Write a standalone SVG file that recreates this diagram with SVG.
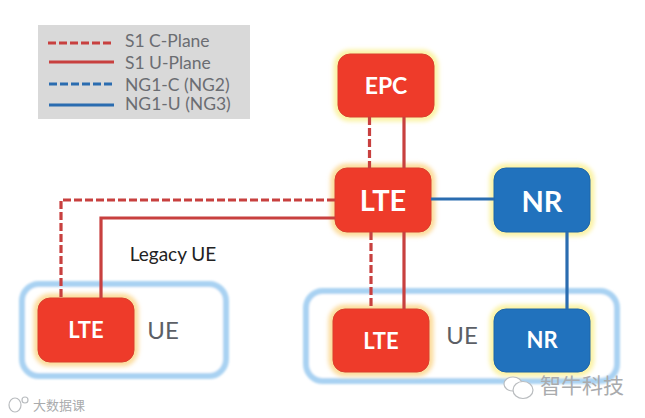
<svg xmlns="http://www.w3.org/2000/svg" width="645" height="418" viewBox="0 0 645 418">
<style>
text{font-family:Lato,"Noto Sans CJK SC",sans-serif;text-anchor:middle}
.red{fill:#ee3b2a;stroke:#d9402e;stroke-width:1}
.blue{fill:#2172bd;stroke:#1f66a8;stroke-width:1}
.glow{fill:none;stroke:#fbf3a6;stroke-width:9;filter:url(#b)}
.glow2{fill:none;stroke:#fcdc9c;stroke-width:9;filter:url(#b)}
.ue{fill:#fff;stroke:#a9d2f2;stroke-width:6;filter:url(#c)}
.lbl{fill:#fff;font-weight:700}
.uet{fill:#5c5f66;font-size:24px}
.leg{fill:#6b6d72;font-size:17.500px;text-anchor:start}
.s{fill:none;stroke:#c8403f;stroke-width:3.200}
.d{fill:none;stroke:#c8403f;stroke-width:3.200;stroke-dasharray:8 3}
.bs{fill:none;stroke:#2a6cb0;stroke-width:3.200}
.bd{fill:none;stroke:#2a6cb0;stroke-width:3.200;stroke-dasharray:8 3}
.wm{fill:#a9abad}
.ic{fill:#fff;stroke:#b9bcbf;stroke-width:1.200}
</style>
<defs><filter id="b" x="-20%" y="-20%" width="140%" height="140%"><feGaussianBlur stdDeviation="2"/></filter><filter id="c" x="-5%" y="-10%" width="110%" height="120%"><feGaussianBlur stdDeviation="0.900"/></filter></defs>
<rect width="645" height="418" fill="#fff"/>
<g id="legend">
<rect x="38" y="25" width="212" height="94" fill="#d9d9d9"/>
<path class="d" d="M48 43H114"/><path class="s" d="M49 62H114"/>
<path class="bd" d="M49 84H114"/><path class="bs" d="M49 105H114"/>
<text class="leg" x="125" y="47">S1 C-Plane</text>
<text class="leg" x="125" y="69">S1 U-Plane</text>
<text class="leg" x="125" y="91">NG1-C (NG2)</text>
<text class="leg" x="125" y="110">NG1-U (NG3)</text>
</g>
<g id="ue-left"><rect class="ue" x="22" y="284" width="204" height="92" rx="17"/><text class="uet" x="163" y="339">UE</text></g>
<g id="ue-right"><rect class="ue" x="306" y="291" width="311" height="90" rx="17"/><text class="uet" x="462" y="344">UE</text></g>
<g id="epc"><rect class="glow" x="338" y="54" width="96" height="63" rx="12"/><rect class="red" x="338" y="54" width="96" height="63" rx="12"/><text class="lbl" x="386" y="94" font-size="23">EPC</text></g>
<g id="lte-core"><rect class="glow2" x="335" y="168" width="96" height="64" rx="12"/><rect class="red" x="335" y="168" width="96" height="64" rx="12"/><text class="lbl" x="383" y="211" font-size="29">LTE</text></g>
<g id="nr-core"><rect class="glow" x="494" y="168" width="96" height="64" rx="12"/><rect class="blue" x="494" y="168" width="96" height="64" rx="12"/><text class="lbl" x="542" y="212" font-size="29">NR</text></g>
<g id="lte-legacy"><rect class="glow2" x="38" y="298" width="96" height="64" rx="12"/><rect class="red" x="38" y="298" width="96" height="64" rx="12"/><text class="lbl" x="86" y="338" font-size="22">LTE</text></g>
<g id="lte-ue"><rect class="glow2" x="333" y="309" width="96" height="63" rx="12"/><rect class="red" x="333" y="309" width="96" height="63" rx="12"/><text class="lbl" x="381" y="349" font-size="22">LTE</text></g>
<g id="nr-ue"><rect class="glow" x="494" y="309" width="96" height="63" rx="12"/><rect class="blue" x="494" y="309" width="96" height="63" rx="12"/><text class="lbl" x="542" y="348" font-size="22">NR</text></g>
<g id="connectors">
<path class="d" d="M369.500 117V168"/><path class="s" d="M404 117V168"/>
<path class="bs" d="M431 199H494"/>
<path class="bs" d="M567 232V309"/>
<path class="d" d="M371 232V309"/><path class="s" d="M404 232V309"/>
<path class="d" d="M335 200H61V298"/><path class="s" d="M335 218H101V298"/>
</g>
<text x="173" y="261" font-size="19" fill="#222">Legacy UE</text>
<g id="wm-right"><ellipse class="ic" cx="513" cy="384" rx="9" ry="7"/><ellipse class="ic" cx="523" cy="390" rx="10" ry="8.500"/><text class="wm" x="582" y="393" font-size="21">智牛科技</text></g>
<g id="wm-left"><ellipse class="ic" cx="15" cy="405" rx="6" ry="7"/><circle class="ic" cx="25" cy="400" r="3"/><text class="wm" x="59" y="410" font-size="13">大数据课</text></g>
</svg>
